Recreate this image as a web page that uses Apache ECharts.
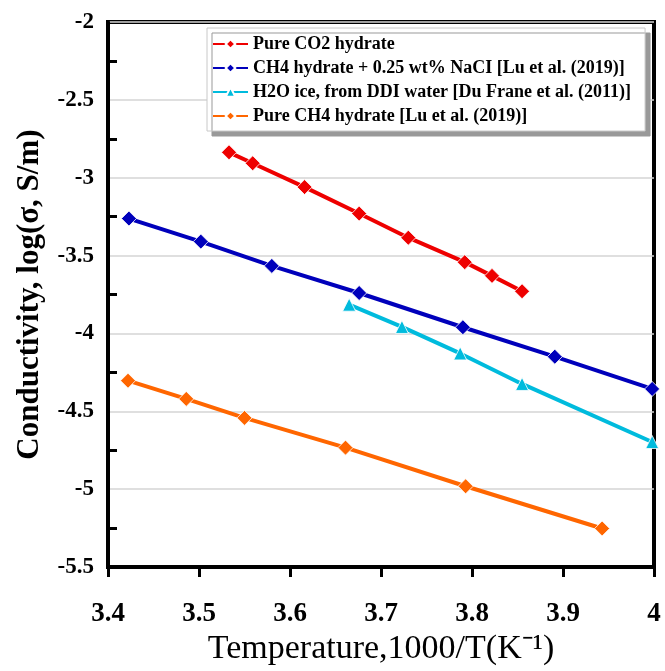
<!DOCTYPE html>
<html><head><meta charset="utf-8">
<script src="https://cdn.jsdelivr.net/npm/echarts@6/dist/echarts.min.js"></script>
<style>html,body{margin:0;padding:0;background:#fff}#c{width:665px;height:671px}</style>
</head><body><div id="c"></div>
<script>
const seriesNames = [
  'Pure CO2 hydrate',
  'CH4 hydrate + 0.25 wt% NaCI [Lu et al. (2019)]',
  'H2O ice, from DDI water [Du Frane et al. (2011)]',
  'Pure CH4 hydrate [Lu et al. (2019)]'
];
const co2X = [3.533, 3.559, 3.616, 3.676, 3.730, 3.792, 3.822, 3.855];
const co2Y = [-2.837, -2.907, -3.060, -3.230, -3.385, -3.542, -3.630, -3.729];
const ch4NaClX = [3.423, 3.502, 3.580, 3.676, 3.790, 3.891, 3.998];
const ch4NaClY = [-3.262, -3.410, -3.566, -3.740, -3.960, -4.149, -4.356];
const iceX = [3.665, 3.723, 3.787, 3.855, 3.998];
const iceY = [-3.815, -3.958, -4.128, -4.324, -4.697];
const ch4X = [3.422, 3.486, 3.550, 3.661, 3.793, 3.943];
const ch4Y = [-4.303, -4.420, -4.542, -4.733, -4.981, -5.252];
const colors = ['#ee0000', '#0000bb', '#00bbdd', '#ff6600'];
const symbols = ['diamond', 'diamond', 'triangle', 'diamond'];

const zip = (a, b) => a.map((v, i) => [v, b[i]]);
const datasets = [zip(co2X, co2Y), zip(ch4NaClX, ch4NaClY), zip(iceX, iceY), zip(ch4X, ch4Y)];

const serif = '"Liberation Serif", "Times New Roman", serif';
const chart = echarts.init(document.getElementById('c'));
chart.setOption({
  animation: false,
  grid: { left: 108, right: 11, top: 22, bottom: 100, show: true, borderColor: '#000', borderWidth: 4, backgroundColor: 'transparent' },
  legend: {
    orient: 'vertical', left: 207, top: 28,
    padding: [7, 14, 6, 5], itemGap: 6, itemWidth: 35, itemHeight: 12,
    backgroundColor: '#fff', borderColor: '#c8c8c8', borderWidth: 1,
    shadowColor: '#999', shadowBlur: 0, shadowOffsetX: 5, shadowOffsetY: 5,
    textStyle: { fontFamily: serif, fontWeight: 'bold', fontSize: 18, lineHeight: 18, color: '#000' },
    data: seriesNames
  },
  xAxis: {
    type: 'value', min: 3.4, max: 4, interval: 0.1,
    axisLine: { lineStyle: { color: '#000', width: 4 } },
    axisTick: { show: true, length: 10, lineStyle: { color: '#000', width: 3 } },
    splitLine: { show: false },
    axisLabel: { margin: 33, fontFamily: serif, fontWeight: 'bold', fontSize: 27, color: '#000',
      formatter: v => String(Math.round(v * 10) / 10) },
    name: 'Temperature,1000/T(K⁻¹)', nameLocation: 'middle', nameGap: 63,
    nameTextStyle: { fontFamily: serif, fontSize: 34, color: '#000' }
  },
  yAxis: {
    type: 'value', min: -5.5, max: -2, interval: 0.5,
    axisLine: { show: true, lineStyle: { color: '#000', width: 4 } },
    axisTick: { show: false, inside: true },
    minorTick: { show: true, splitNumber: 2, length: 9, lineStyle: { color: '#000', width: 3 } },
    splitLine: { show: true, lineStyle: { color: '#d4d4d4', width: 1.5 } },
    axisLabel: { margin: 14, fontFamily: serif, fontWeight: 'bold', fontSize: 23, color: '#000' },
    name: 'Conductivity, log(σ, S/m)', nameLocation: 'middle', nameGap: 63, nameRotate: 90,
    nameTextStyle: { fontFamily: serif, fontWeight: 'bold', fontSize: 31, color: '#000' }
  },
  series: datasets.map((d, i) => ({
    name: seriesNames[i], type: 'line', data: d,
    symbol: symbols[i], symbolSize: i === 2 ? 13 : 15,
    lineStyle: { color: colors[i], width: 4 },
    itemStyle: { color: colors[i], borderColor: '#fff', borderWidth: 0.8 },
    z: 3
  }))
});
</script></body></html>
